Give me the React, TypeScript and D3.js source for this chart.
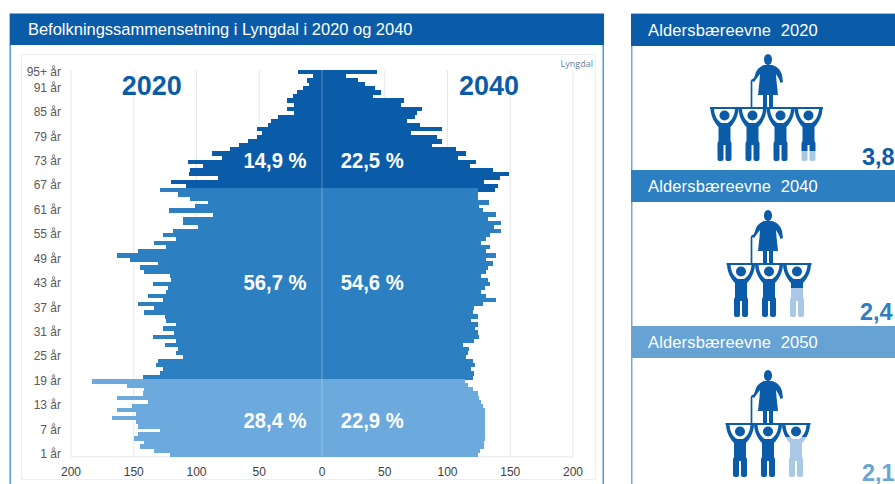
import React from "react";
import * as d3 from "d3";

const W = 895;
const H = 484;

const elderly2020 = [19,7,12,10,15,20,23,28,22,28,22,35,41,43,52,48,52,59,66,73,88,80,107,95,105,106,83,120,108];
const working2020 = [129,115,105,91,101,122,87,111,111,99,119,127,116,134,124,147,163,153,131,145,142,121,120,135,123,124,139,127,147,134,142,125,124,116,127,118,135,116,125,115,116,111,131,132,127,129,143];
const young2020 = [183,155,142,143,163,139,151,163,148,167,148,147,129,147,150,142,145,134,121];

const elderly2040 = [44,19,29,34,42,47,41,65,63,80,76,74,68,78,96,71,92,96,88,107,115,108,123,118,136,149,142,129,140];
const working2040 = [124,124,124,133,125,128,139,132,143,137,143,134,131,127,134,131,139,131,136,132,131,127,132,134,130,127,131,139,128,121,120,124,119,124,122,124,125,121,112,117,116,115,120,122,119,121,120];
const young2040 = [114,116,120,124,125,127,128,130,130,130,130,130,130,130,130,129,129,126,124];

const overhangAge = 66;
const overhang2040 = 138;

const ages = d3.range(95, 0, -1);
const ageTicks = [95, 91, 85, 79, 73, 67, 61, 55, 49, 43, 37, 31, 25, 19, 13, 7, 1];
const valueTicks = [200, 150, 100, 50, 0];

const percentLabels = [
  { text: "14,9 %", side: "left", baseline: 168 },
  { text: "22,5 %", side: "right", baseline: 168 },
  { text: "56,7 %", side: "left", baseline: 290 },
  { text: "54,6 %", side: "right", baseline: 290 },
  { text: "28,4 %", side: "left", baseline: 428 },
  { text: "22,9 %", side: "right", baseline: 428 },
];

const DARK = "#0b5ca8";
const MID = "#2c7fc1";
const LIGHT = "#6ca9dc";
const SANS = "'Liberation Sans', Arial, sans-serif";

const support = [
  { label: "Aldersbæreevne  2020", value: "3,8", top: 14, head: DARK, colour: DARK, platform: 107, carriers: 4, first: 724.5, lightIndex: 3, lightFrom: 44, vx: 862, vy: 165 },
  { label: "Aldersbæreevne  2040", value: "2,4", top: 170, head: MID, colour: MID, platform: 263, carriers: 3, first: 741, lightIndex: 2, lightFrom: 25, vx: 860, vy: 320 },
  { label: "Aldersbæreevne  2050", value: "2,1", top: 326, head: "#66a3d4", colour: "#6aa5d6", platform: 423, carriers: 3, first: 740, lightIndex: 2, lightFrom: 14, vx: 862, vy: 481 },
];

const yBand = d3.scaleBand<number>().domain(ages).range([70, 456.6]).padding(0);
const xLeft = d3.scaleLinear().domain([0, 200]).range([322, 71]);
const xRight = d3.scaleLinear().domain([0, 200]).range([322, 573]);

function ageColour(age: number) {
  if (age >= 67) return DARK;
  if (age >= 20) return MID;
  return LIGHT;
}

function Elder({ cx, py }: { cx: number; py: number }) {
  return (
    <g transform={`translate(${cx},${py})`} fill={DARK}>
      <ellipse cx={0} cy={-47.5} rx={4} ry={5.6} />
      <path d="M-4,-42 C-7,-41 -10,-39 -12,-35 L-14,-29 L-17,-27 L-14,-25 L-11,-29 L-8,-33 L-8.5,-26 L-10,-12 L10,-12 L8.5,-26 L8,-33 L11,-28 L12.5,-24 L15,-25 L14,-32 C12.5,-38 8,-41 4,-42 Z" />
      <rect x={-5} y={-12} width={4} height={12} />
      <rect x={1} y={-12} width={4} height={12} />
      <path d="M-16.5,0 L-16.5,-25 Q-16.5,-27 -14.5,-27" fill="none" stroke={DARK} strokeWidth={1.7} />
    </g>
  );
}

function CarrierShape({ colour }: { colour: string }) {
  return (
    <g fill={colour}>
      <circle cx={0} cy={8.5} r={5} />
      <path d="M-14,1 C-14,10 -9,17 -6,20 L-6,34 L-7,36 L-7,52 Q-7,54 -5,54 L-3,54 Q-1,54 -1,52 L-1,38 L1,38 L1,52 Q1,54 3,54 L5,54 Q7,54 7,52 L7,36 L6,34 L6,20 C9,17 14,10 14,1 L10.5,1 C10.5,8 7,14 3,16 L-3,16 C-7,14 -10.5,8 -10.5,1 Z" />
    </g>
  );
}

function Carrier({ id, cx, py, lightFrom }: { id: string; cx: number; py: number; lightFrom?: number }) {
  return (
    <g transform={`translate(${cx},${py})`}>
      {lightFrom === undefined ? (
        <CarrierShape colour={DARK} />
      ) : (
        <>
          <clipPath id={`${id}-top`}><rect x={-16} y={-1} width={32} height={lightFrom + 1} /></clipPath>
          <clipPath id={`${id}-bottom`}><rect x={-16} y={lightFrom} width={32} height={60} /></clipPath>
          <g clipPath={`url(#${id}-top)`}><CarrierShape colour={DARK} /></g>
          <g clipPath={`url(#${id}-bottom)`}><CarrierShape colour="#a9c8e6" /></g>
        </>
      )}
    </g>
  );
}

function Pyramid(props: { row: (typeof support)[number] }) {
  const { row } = props;
  const spacing = 28;
  const left = row.first - 14.5;
  const right = row.first + spacing * (row.carriers - 1) + 14.5;
  return (
    <g>
      <Elder cx={768} py={row.platform} />
      <rect x={left} y={row.platform} width={right - left} height={2} fill={DARK} />
      {d3.range(row.carriers).map((i) => (
        <Carrier
          key={i}
          id={`c${row.top}-${i}`}
          cx={row.first + i * spacing}
          py={row.platform}
          lightFrom={i === row.lightIndex ? row.lightFrom : undefined}
        />
      ))}
    </g>
  );
}

export default function App() {
  const series2020 = [...elderly2020, ...working2020, ...young2020];
  const series2040 = [...elderly2040, ...working2040, ...young2040];
  const bandH = yBand.bandwidth();
  const gridValues = [50, 100, 150, 200];
  return (
    <svg width={W} height={H} viewBox={`0 0 ${W} ${H}`} style={{ position: "absolute", left: 0, top: 0, display: "block", fontFamily: SANS }}>
      <rect width={W} height={H} fill="#ffffff" />

      {/* Left panel */}
      <rect x={10.25} y={14} width={593} height={480} fill="#fff" stroke="#5b9bd5" strokeWidth={1.6} />
      <rect x={21.5} y={54.5} width={574} height={425} fill="#fff" stroke="#efefef" strokeWidth={1} />
      <rect x={10} y={14} width={594} height={31} fill={DARK} />
      <text x={28} y={35} fill="#fff" fontSize={16.47}>Befolkningssammensetning i Lyngdal i 2020 og 2040</text>

      {/* Grid */}
      {gridValues.map((v) => (
        <g key={v} stroke="#e8e8e8" strokeWidth={1}>
          <line x1={xLeft(v)} x2={xLeft(v)} y1={70} y2={456.6} />
          <line x1={xRight(v)} x2={xRight(v)} y1={70} y2={456.6} />
        </g>
      ))}
      <line x1={71} x2={573} y1={456.8} y2={456.8} stroke="#e8e8e8" />

      {/* Bars */}
      <g shapeRendering="crispEdges">
        {ages.map((age, i) => (
          <rect key={age} x={xLeft(series2020[i])} y={yBand(age)} width={322 - xLeft(series2020[i])} height={bandH + 0.4} fill={ageColour(age)} />
        ))}
        <rect x={322} y={yBand(overhangAge)} width={xRight(overhang2040) - 322} height={bandH} fill={DARK} />
        {ages.map((age, i) => (
          <rect key={age} x={322} y={yBand(age)} width={xRight(series2040[i]) - 322} height={bandH + 0.4} fill={ageColour(age)} />
        ))}
      </g>
      <line x1={322} x2={322} y1={70} y2={456.6} stroke="#fff" strokeOpacity={0.3} strokeWidth={1} />

      {/* Axis labels */}
      {ageTicks.map((a) => (
        <text key={a} x={61} y={(yBand(a) as number) + bandH / 2 + 3.5} textAnchor="end" fontSize={12} fill="#595959">
          {a === 95 ? "95+ år" : `${a} år`}
        </text>
      ))}
      {valueTicks.map((v) => (
        <text key={`l${v}`} x={xLeft(v)} y={476} textAnchor="middle" fontSize={12} fill="#404040">{v}</text>
      ))}
      {valueTicks.filter((v) => v > 0).map((v) => (
        <text key={`r${v}`} x={xRight(v)} y={476} textAnchor="middle" fontSize={12} fill="#404040">{v}</text>
      ))}

      <text x={151.7} y={95} textAnchor="middle" fontSize={28} fontWeight={700} fill={DARK} textLength={60} lengthAdjust="spacingAndGlyphs">2020</text>
      <text x={489} y={95} textAnchor="middle" fontSize={28} fontWeight={700} fill={DARK} textLength={60} lengthAdjust="spacingAndGlyphs">2040</text>
      <text x={593} y={67} textAnchor="end" fontSize={9} fill="#5a7fa5" fontFamily="'Open Sans', sans-serif">Lyngdal</text>

      {percentLabels.map((p) => (
        <text key={p.text} x={p.side === "left" ? 275 : 372.2} y={p.baseline} textAnchor="middle" fontSize={22} fontWeight={700} fill="#fff" textLength={63} lengthAdjust="spacingAndGlyphs">{p.text}</text>
      ))}

      {/* Right panel */}
      <rect x={631.75} y={14} width={300} height={480} fill="#fff" stroke="#6aa5d6" strokeWidth={1.4} />
      {support.map((row) => (
        <g key={row.top}>
          <rect x={631} y={row.top} width={264} height={32} fill={row.head} />
          <text x={648} y={row.top + 22} fill="#fff" fontSize={16.5} letterSpacing={0.15} style={{ whiteSpace: "pre" }}>{row.label}</text>
          <Pyramid row={row} />
          <text x={row.vx} y={row.vy} fontSize={23.5} fontWeight={700} fill={row.colour}>{row.value}</text>
        </g>
      ))}
    </svg>
  );
}
